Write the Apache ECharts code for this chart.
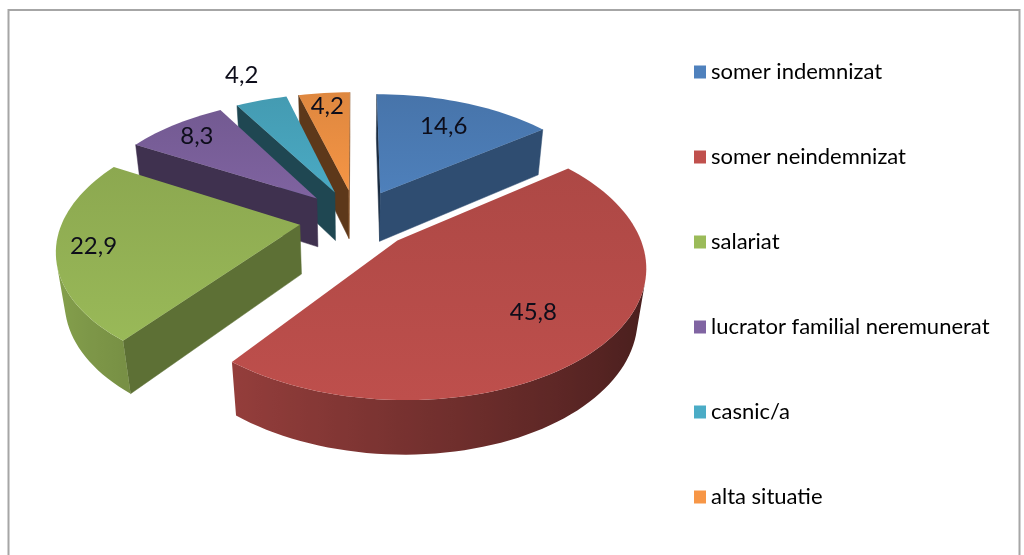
<!DOCTYPE html>
<html>
<head>
<meta charset="utf-8">
<script src="https://cdn.jsdelivr.net/npm/echarts@6/dist/echarts.min.js"></script>
<style>
  html, body { margin: 0; padding: 0; background: #fff; }
  #chart { width: 1024px; height: 555px; }
</style>
</head>
<body>
<div id="chart"></div>
<script>
const categories = ["somer indemnizat", "somer neindemnizat", "salariat", "lucrator familial neremunerat", "casnic/a", "alta situatie"];
const values = [14.6, 45.8, 22.9, 8.3, 4.2, 4.2];
const colors = ["#4F81BD", "#C0504D", "#9BBB59", "#8064A2", "#4BACC6", "#F79646"];
// where each label sits on the top face, as a fraction of the radius
const labelRadius = [0.72, 0.7, 0.85, 0.83, 1.32, 0.85];

const FONT = "Lato, 'Liberation Sans', sans-serif";

// 3d view of the pie
const view = {
  cx: 356, cy: 268, scale: 230,
  tilt: 34 * Math.PI / 180,
  height: 0.25, explode: 0.24, dist: 5,
};
const ca = Math.cos(view.tilt);
const sa = Math.sin(view.tilt);

const total = values.reduce((a, b) => a + b, 0);
const starts = [];
values.reduce((acc, v, i) => { starts[i] = acc; return acc + v; }, 0);

const project = (x, y, z) => {
  const yc = y * ca + z * sa;
  const zc = z * ca - y * sa;
  const w = view.dist / (view.dist + zc);
  return [view.cx + view.scale * x * w, view.cy - view.scale * yc * w];
};

const shade = (hex, f) => {
  const n = parseInt(hex.slice(1), 16);
  const c = [(n >> 16) & 255, (n >> 8) & 255, n & 255].map((v) => Math.max(0, Math.min(255, Math.round(v * f))));
  return `rgb(${c[0]},${c[1]},${c[2]})`;
};

// light comes from the front right
const faceLight = (normal) => 0.45 + 0.15 * Math.cos(normal - (135 * Math.PI) / 180);

const area = (pts) => {
  let s = 0;
  for (let i = 0; i < pts.length; i++) {
    const a = pts[i];
    const b = pts[(i + 1) % pts.length];
    s += a[0] * b[1] - b[0] * a[1];
  }
  return s / 2;
};

const sliceGeom = (i) => {
  const a0 = (starts[i] / total) * Math.PI * 2;
  const a1 = ((starts[i] + values[i]) / total) * Math.PI * 2;
  const mid = (a0 + a1) / 2;
  const ox = view.explode * Math.sin(mid);
  const oz = view.explode * Math.cos(mid);
  return { a0, a1, mid, ox, oz };
};

const renderSlice = (i) => () => {
  const { a0, a1, mid, ox, oz } = sliceGeom(i);
  const H = view.height;
  const P = (t, r, y) => project(ox + r * Math.sin(t), y, oz + r * Math.cos(t));
  const base = colors[i];
  const children = [];

  const poly = (pts, fill, stroke) => children.push({
    type: "polygon",
    shape: { points: pts },
    style: { fill, stroke: stroke || fill, lineWidth: 0.5 },
  });

  // radial faces
  const startFace = [P(0, 0, H), P(0, 0, 0), P(a0, 1, 0), P(a0, 1, H)];
  if (area(startFace) > 0) poly(startFace, shade(base, faceLight(a0 - Math.PI / 2)));
  const endFace = [P(0, 0, H), P(a1, 1, H), P(a1, 1, 0), P(0, 0, 0)];
  if (area(endFace) > 0) poly(endFace, shade(base, faceLight(a1 + Math.PI / 2)));

  // outer wall, the part facing the viewer, as one shaded band
  const steps = Math.max(4, Math.ceil((a1 - a0) / (Math.PI / 90)));
  const angle = (j) => a0 + ((a1 - a0) * j) / steps;
  const seen = [];
  for (let j = 0; j < steps; j++) {
    const q = [P(angle(j), 1, H), P(angle(j), 1, 0), P(angle(j + 1), 1, 0), P(angle(j + 1), 1, H)];
    if (area(q) > 0) seen.push(j);
  }
  if (seen.length) {
    const js = [];
    for (let j = seen[0]; j <= seen[seen.length - 1] + 1; j++) js.push(j);
    const topPts = js.map((j) => P(angle(j), 1, H));
    const botPts = js.map((j) => P(angle(j), 1, 0)).reverse();
    const xs = topPts.map((p) => p[0]);
    const x0 = Math.min(...xs);
    const x1 = Math.max(...xs);
    const stops = js.map((j, k) => ({
      offset: x1 > x0 ? (xs[k] - x0) / (x1 - x0) : 0,
      color: shade(base, 0.62 - 0.25 * Math.sin(angle(j))),
    })).sort((a, b) => a.offset - b.offset);
    const fill = new echarts.graphic.LinearGradient(x0, 0, x1, 0, stops, true);
    poly(topPts.concat(botPts), fill, "none");
  }

  // top face
  const top = [P(0, 0, H)];
  for (let j = 0; j <= steps; j++) top.push(P(angle(j), 1, H));
  const ys = top.map((p) => p[1]);
  const topFill = new echarts.graphic.LinearGradient(0, Math.min(...ys), 0, Math.max(...ys), [
    { offset: 0, color: shade(base, 0.9) },
    { offset: 1, color: shade(base, 0.99) },
  ], true);
  poly(top, topFill, "none");

  const lp = P(mid, labelRadius[i], H);
  children.push({
    type: "text",
    z2: 100,
    style: {
      text: String(values[i]).replace(".", ","),
      x: lp[0], y: lp[1],
      align: "center", verticalAlign: "middle",
      fill: "#0d0d1a", fontSize: 24, fontFamily: FONT,
    },
  });

  return { type: "group", children };
};

// back slices first
const depth = values.map((v, i) => {
  const g = sliceGeom(i);
  return g.oz + 0.5 * Math.cos(g.mid);
});
const order = values.map((v, i) => i).sort((a, b) => depth[b] - depth[a]);
const zOf = [];
order.forEach((idx, rank) => { zOf[idx] = 2 + rank; });

const chart = echarts.init(document.getElementById("chart"));
chart.setOption({
  animation: false,
  backgroundColor: "#fff",
  graphic: [
    {
      type: "rect",
      shape: { x: 8.5, y: 10, width: 1011, height: 560 },
      style: { fill: "none", stroke: "#a6a6a6", lineWidth: 2 },
      silent: true,
    },
  ],
  legend: {
    orient: "vertical",
    left: 689,
    top: 52,
    icon: "rect",
    itemWidth: 12,
    itemHeight: 13,
    itemGap: 55,
    selectedMode: false,
    data: categories,
    textStyle: { fontFamily: FONT, fontSize: 22, lineHeight: 30, color: "#000" },
  },
  series: categories.map((name, i) => ({
    type: "custom",
    name,
    coordinateSystem: "none",
    z: zOf[i],
    silent: true,
    itemStyle: { color: colors[i] },
    data: [values[i]],
    renderItem: renderSlice(i),
  })),
});
</script>
</body>
</html>
